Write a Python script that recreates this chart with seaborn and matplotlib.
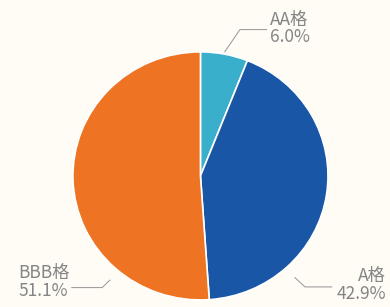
import matplotlib
matplotlib.use("Agg")
import matplotlib.pyplot as plt
import seaborn as sns

# rating distribution
ratings = ["AA格", "A格", "BBB格"]
shares = [6.0, 42.9, 51.1]
colors = ["#3aafcc", "#1a56a6", "#ee7423"]

sns.set_theme(style="white")
plt.rcParams['font.family'] = ['Noto Sans CJK SC', 'DejaVu Sans']

BG = "#fffcf6"
fig = plt.figure(figsize=(3.9, 3.07), dpi=100, facecolor=BG)
ax = fig.add_axes([0.187, 0.023, 0.654, 0.808])
ax.set_facecolor(BG)

palette = sns.color_palette(colors)
ax.pie(shares, colors=palette, startangle=90, counterclock=False,
       radius=1.0, wedgeprops=dict(edgecolor="white", linewidth=1.2))
ax.set_xlim(-1, 1)
ax.set_ylim(-1, 1)
ax.set_aspect("auto")
ax.axis("off")

txt_color = "#858585"
# label layout: (text x, text y, ha, leader path)
layout = {
    "AA格": (0.545, 1.19, "left", [(0.19, 1.0), (0.31, 1.18), (0.52, 1.18)]),
    "A格": (1.455, -0.88, "right", [(0.74, -0.82), (0.82, -0.895), (1.03, -0.895)]),
    "BBB格": (-1.43, -0.855, "left", [(-0.71, -0.84), (-0.77, -0.9), (-1.01, -0.9)]),
}
for name, val in zip(ratings, shares):
    x, y, ha, path = layout[name]
    ax.text(x, y, f"{name}\n{val:.1f}%", ha=ha, va="center", fontsize=12.5,
            color=txt_color, linespacing=0.95)
    xs, ys = zip(*path)
    ax.plot(xs, ys, color="#a0a0a0", lw=0.8, clip_on=False)

fig.savefig("out.png", dpi=100, facecolor=BG)
